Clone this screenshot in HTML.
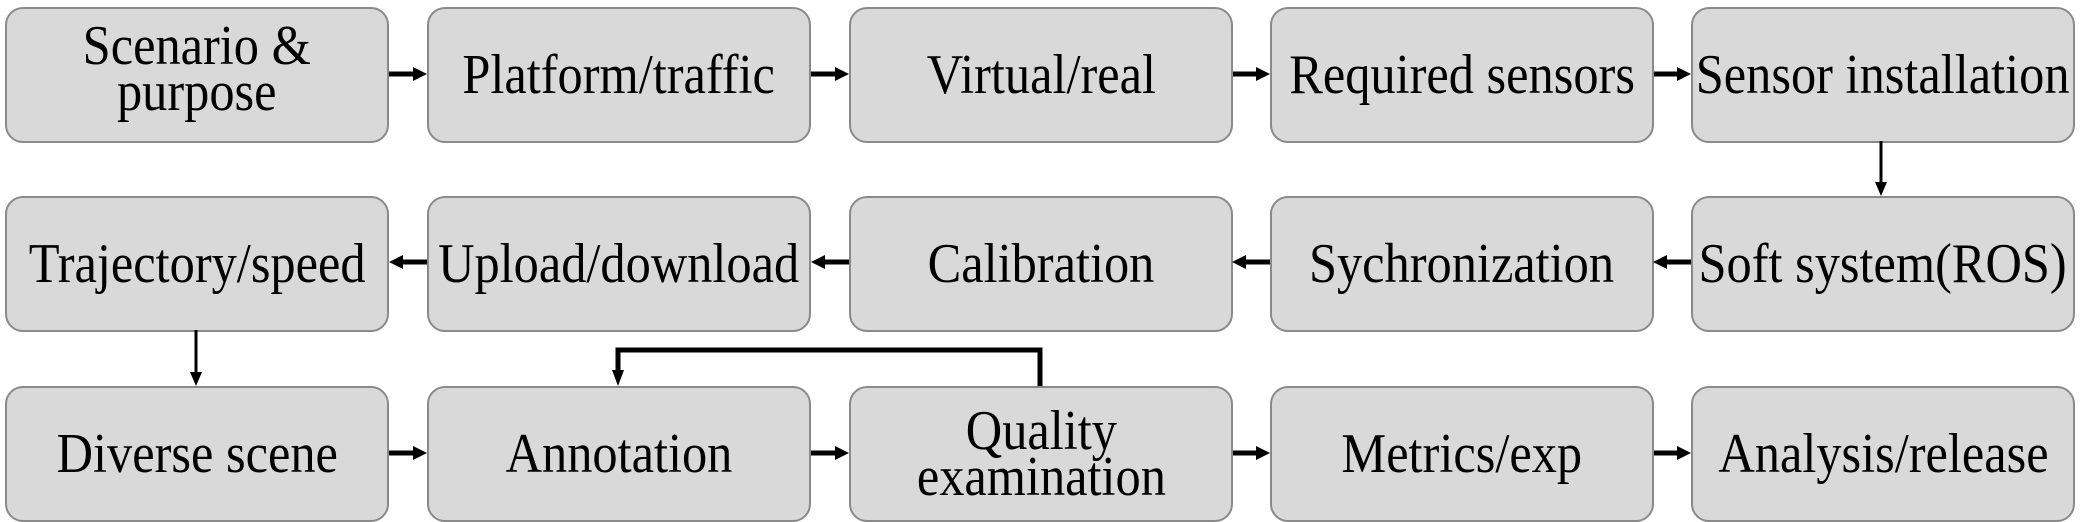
<!DOCTYPE html>
<html><head><meta charset="utf-8"><style>
body{margin:0;width:2080px;height:522px;background:#fff;position:relative;overflow:hidden;font-family:"Liberation Serif",serif;}
.b{position:absolute;width:380px;height:132px;background:#d9d9d9;border:2px solid #8a8a8a;border-radius:18px;display:flex;align-items:center;justify-content:center;text-align:center;}
.t{display:inline-block;font-size:56px;line-height:46px;transform:scaleX(0.9);white-space:nowrap;color:#000;}
svg{position:absolute;left:0;top:0;}
</style></head><body>
<div class="b" style="left:5px;top:7px"><span class="t" style="margin-top:-12px">Scenario &amp;<br>purpose</span></div>
<div class="b" style="left:427px;top:7px"><span class="t">Platform/traffic</span></div>
<div class="b" style="left:849px;top:7px"><span class="t">Virtual/real</span></div>
<div class="b" style="left:1270px;top:7px"><span class="t">Required sensors</span></div>
<div class="b" style="left:1691px;top:7px"><span class="t">Sensor installation</span></div>

<div class="b" style="left:5px;top:196px"><span class="t">Trajectory/speed</span></div>
<div class="b" style="left:427px;top:196px"><span class="t">Upload/download</span></div>
<div class="b" style="left:849px;top:196px"><span class="t">Calibration</span></div>
<div class="b" style="left:1270px;top:196px"><span class="t">Sychronization</span></div>
<div class="b" style="left:1691px;top:196px"><span class="t">Soft system(ROS)</span></div>

<div class="b" style="left:5px;top:386px"><span class="t">Diverse scene</span></div>
<div class="b" style="left:427px;top:386px"><span class="t">Annotation</span></div>
<div class="b" style="left:849px;top:386px"><span class="t">Quality<br>examination</span></div>
<div class="b" style="left:1270px;top:386px"><span class="t">Metrics/exp</span></div>
<div class="b" style="left:1691px;top:386px"><span class="t">Analysis/release</span></div>

<svg width="2080" height="522">
<g stroke="#000" stroke-width="5" fill="none">
<line x1="389" y1="74" x2="415" y2="74"/>
<line x1="811" y1="74" x2="837" y2="74"/>
<line x1="1233" y1="74" x2="1258" y2="74"/>
<line x1="1654" y1="74" x2="1679" y2="74"/>
<line x1="1691" y1="262" x2="1665" y2="262"/>
<line x1="1270" y1="262" x2="1244" y2="262"/>
<line x1="849" y1="262" x2="823" y2="262"/>
<line x1="427" y1="262" x2="401" y2="262"/>
<line x1="389" y1="453" x2="415" y2="453"/>
<line x1="811" y1="453" x2="837" y2="453"/>
<line x1="1233" y1="453" x2="1258" y2="453"/>
<line x1="1654" y1="453" x2="1679" y2="453"/>
<polyline points="1040,386 1040,350 618,350 618,372"/>
</g>
<g stroke="#000" stroke-width="3">
<line x1="1881" y1="141" x2="1881" y2="184"/>
<line x1="196" y1="330" x2="196" y2="374"/>
</g>
<g fill="#000">
<polygon points="427,74 413,67 413,81"/>
<polygon points="849,74 835,67 835,81"/>
<polygon points="1270,74 1256,67 1256,81"/>
<polygon points="1691,74 1677,67 1677,81"/>
<polygon points="1653,262 1667,255 1667,269"/>
<polygon points="1232,262 1246,255 1246,269"/>
<polygon points="811,262 825,255 825,269"/>
<polygon points="389,262 403,255 403,269"/>
<polygon points="427,453 413,446 413,460"/>
<polygon points="849,453 835,446 835,460"/>
<polygon points="1270,453 1256,446 1256,460"/>
<polygon points="1691,453 1677,446 1677,460"/>
<polygon points="1881,196 1875,182 1887,182"/>
<polygon points="196,386 190,372 202,372"/>
<polygon points="618,386 612,370 624,370"/>
</g>
</svg>
</body></html>
